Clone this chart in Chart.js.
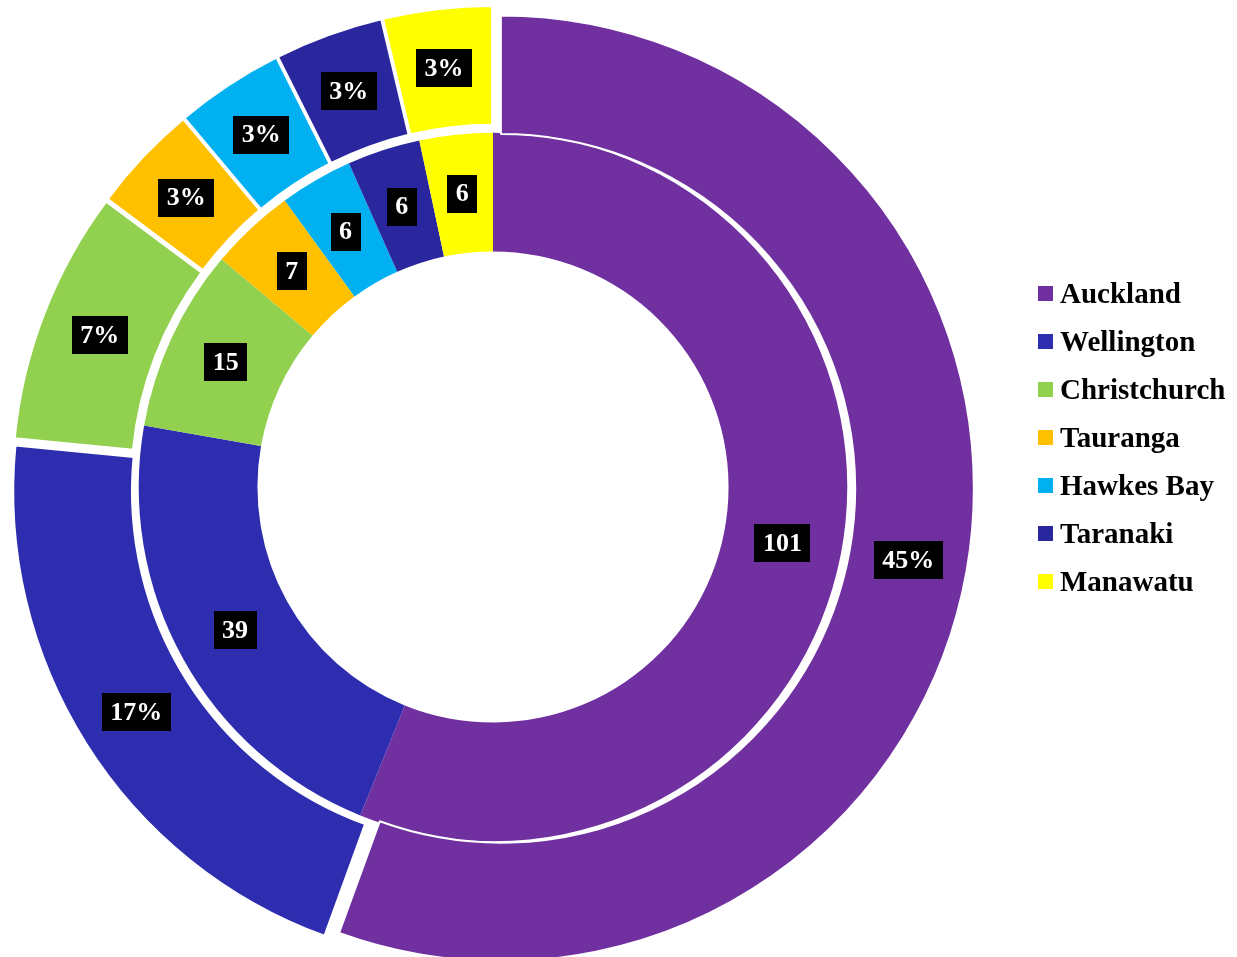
<!DOCTYPE html>
<html>
<head>
<meta charset="utf-8">
<script src="https://cdn.jsdelivr.net/npm/chart.js@4"></script>
<style>
    body { margin: 0; background: #fff; }
    #wrap { position: relative; width: 1237px; height: 957px; overflow: hidden; }
    #chart { position: absolute; left: 0; top: 0; }
    #legend { position: absolute; left: 1038px; top: 269px; font: bold 29px "Liberation Serif", "Times New Roman", serif; color: #000; }
    .item { height: 48px; display: flex; align-items: center; white-space: nowrap; }
    .swatch { width: 15px; height: 15px; margin-right: 7px; }
</style>
</head>
<body>
<div id="wrap">
    <canvas id="chart" width="1237" height="957"></canvas>
    <div id="legend"></div>
</div>
<script>
// dados
const regioes = ['Auckland', 'Wellington', 'Christchurch', 'Tauranga', 'Hawkes Bay', 'Taranaki', 'Manawatu'];
const quantidades = [101, 39, 15, 7, 6, 6, 6];   // anel interno
const percentuais = [45, 17, 7, 3, 3, 3, 3];     // anel externo (%)
const cores = ['#7030A0', '#2E2DB0', '#92D050', '#FFC000', '#00B0F0', '#2A279E', '#FFFF00'];

const EXPLODE = 8; // deslocamento das fatias do anel externo

// legenda em html
const legend = document.getElementById('legend');
regioes.forEach((nome, i) => {
    const row = document.createElement('div');
    row.className = 'item';
    row.innerHTML = `<span class="swatch" style="background:${cores[i]}"></span>${nome}`;
    legend.appendChild(row);
});

// desenha o anel externo com as fatias "explodidas" (só translação)
const explodePlugin = {
    id: 'explode',
    beforeDatasetDraw(chart, args) {
        if (args.index !== 0) return;
        const ctx = chart.ctx;
        args.meta.data.forEach(arc => {
            const mid = (arc.startAngle + arc.endAngle) / 2;
            ctx.save();
            ctx.translate(Math.cos(mid) * EXPLODE, Math.sin(mid) * EXPLODE);
            arc.draw(ctx);
            ctx.restore();
        });
        return false;
    }
};

// rótulos em caixa preta
const boxLabels = {
    id: 'boxLabels',
    afterDatasetsDraw(chart) {
        const ctx = chart.ctx;
        ctx.save();
        ctx.font = 'bold 26px "Liberation Serif", "Times New Roman", serif';
        ctx.textAlign = 'center';
        ctx.textBaseline = 'middle';
        chart.data.datasets.forEach((ds, di) => {
            const meta = chart.getDatasetMeta(di);
            const shift = di === 0 ? EXPLODE : 0;
            meta.data.forEach((arc, i) => {
                const mid = (arc.startAngle + arc.endAngle) / 2;
                const r = (arc.innerRadius + arc.outerRadius) / 2 + shift;
                const x = arc.x + Math.cos(mid) * r;
                const y = arc.y + Math.sin(mid) * r;
                const text = di === 0 ? ds.data[i] + '%' : String(ds.data[i]);
                const w = ctx.measureText(text).width + 17;
                ctx.fillStyle = '#000';
                ctx.fillRect(Math.round(x - w / 2), Math.round(y - 19), Math.round(w), 38);
                ctx.fillStyle = '#fff';
                ctx.fillText(text, x, y + 1);
            });
        });
        ctx.restore();
    }
};

new Chart(document.getElementById('chart'), {
    type: 'doughnut',
    data: {
        labels: regioes,
        datasets: [
            {
                label: 'Percentual',
                data: percentuais,
                backgroundColor: cores,
                borderColor: '#fff',
                borderWidth: 2,
                hoverOffset: 0
            },
            {
                label: 'Quantidade',
                data: quantidades,
                backgroundColor: cores,
                borderWidth: 0,
                hoverOffset: 0
            }
        ]
    },
    options: {
        responsive: false,
        animation: false,
        events: [],
        radius: 473,
        cutout: '49.8%',
        layout: { padding: { top: 17, right: 251, bottom: 0, left: 0 } },
        plugins: {
            legend: { display: false },
            tooltip: { enabled: false }
        }
    },
    plugins: [explodePlugin, boxLabels]
});
</script>
</body>
</html>
